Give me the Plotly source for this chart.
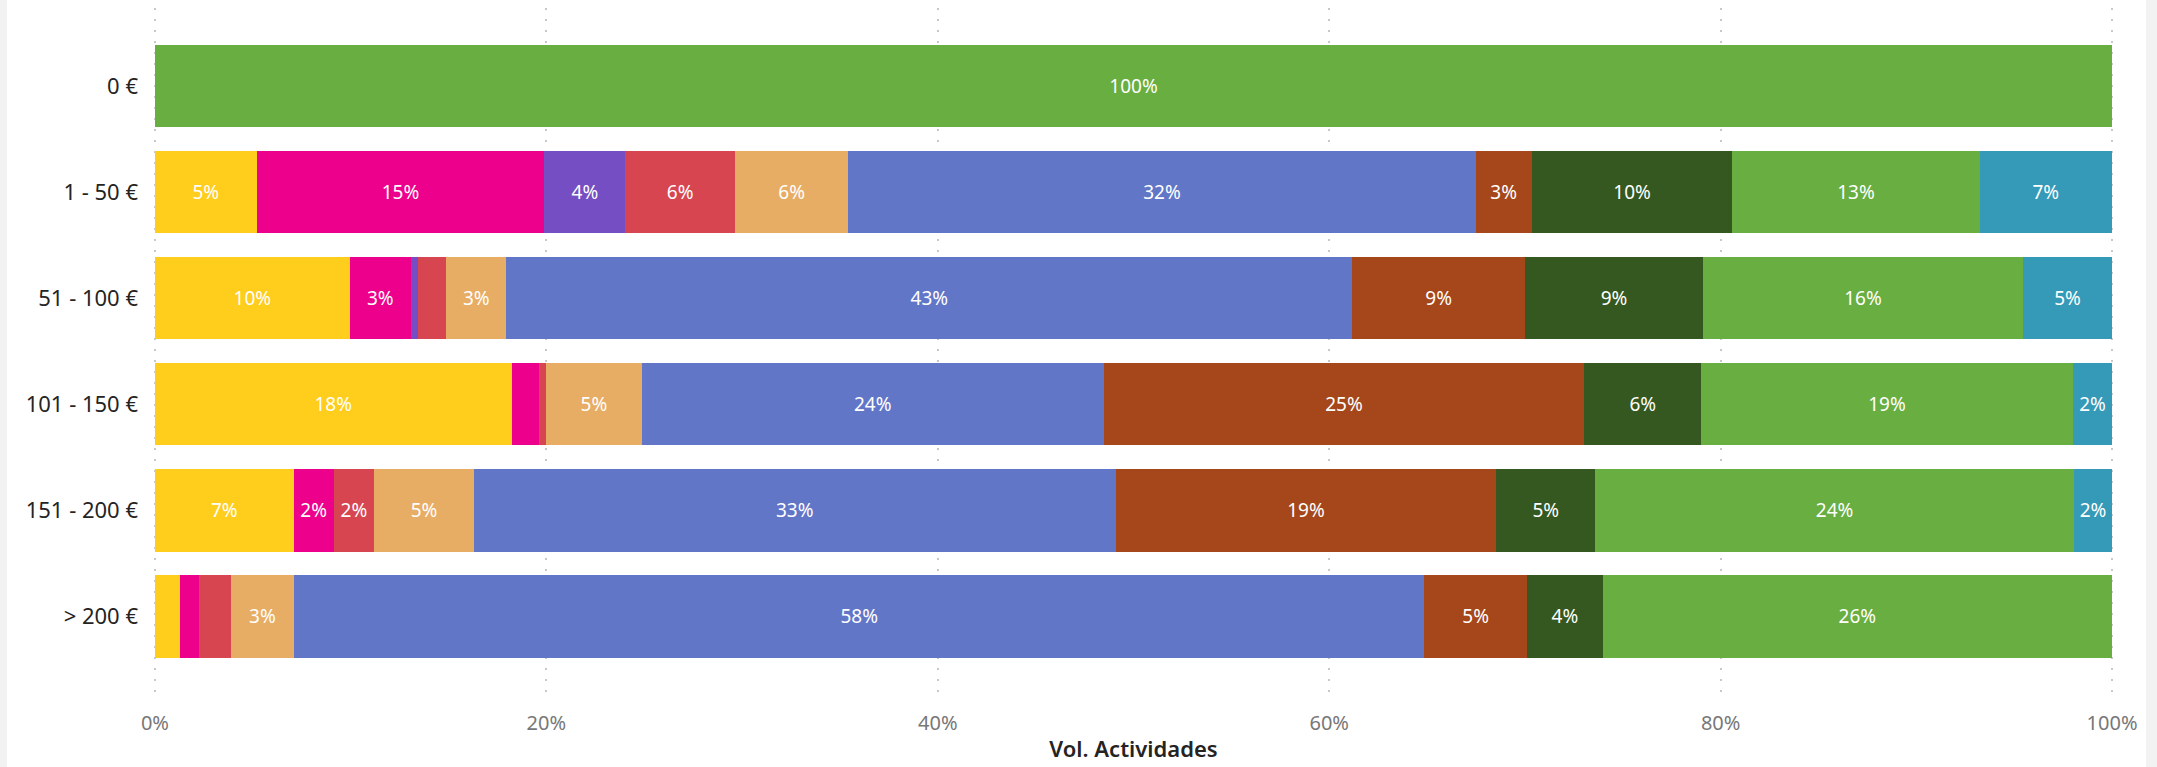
import plotly.graph_objects as go

categories = ["0 €", "1 - 50 €", "51 - 100 €", "101 - 150 €", "151 - 200 €", "> 200 €"]

series_names = ["Serie A", "Serie B", "Serie C", "Serie D", "Serie E",
                "Serie F", "Serie G", "Serie H", "Serie I", "Serie J"]

s_yellow = [0, 5.19, 9.95, 18.22, 7.09, 1.27]
s_pink = [0, 14.71, 3.13, 1.38, 2.04, 0.96]
s_purple = [0, 4.14, 0.37, 0, 0, 0]
s_red = [0, 5.59, 1.43, 0.38, 2.07, 1.64]
s_tan = [0, 5.80, 3.08, 4.90, 5.09, 3.24]
s_blue = [0, 32.05, 43.21, 23.59, 32.80, 57.75]
s_brown = [0, 2.87, 8.84, 24.57, 19.44, 5.25]
s_dkgreen = [0, 10.25, 9.09, 5.96, 5.07, 3.86]
s_green = [100, 12.63, 16.35, 19.00, 24.45, 26.03]
s_teal = [0, 6.77, 4.55, 2.00, 1.95, 0]

series_values = [s_yellow, s_pink, s_purple, s_red, s_tan,
                 s_blue, s_brown, s_dkgreen, s_green, s_teal]

colors = ["#FFCD1C", "#EC008C", "#744EC2", "#D64550", "#E8AD64",
          "#6276C8", "#A5471A", "#345820", "#69AE40", "#3599B8"]

x_ticks = [0, 20, 40, 60, 80, 100]

FONT = "Noto Sans"
W, H = 2157, 767
ML, MR, MT, MB = 153, 43, 8, 66

fig = go.Figure()
for name, vals, col in zip(series_names, series_values, colors):
    labels = [f"{round(v)}%" if v >= 1.9 else "" for v in vals]
    fig.add_trace(go.Bar(
        y=categories, x=vals, name=name, orientation="h",
        marker=dict(color=col, line=dict(width=0)),
        text=labels, textposition="inside", insidetextanchor="middle",
        textangle=0, constraintext="none",
        textfont=dict(family=FONT, size=19, color="#FFFFFF"),
        hovertemplate="%{y}: %{x:.1f}%<extra>" + name + "</extra>",
    ))

pw = W - ML - MR
ph = H - MT - MB
# light grey page strips at left and right edges
fig.add_shape(type="rect", xref="paper", yref="paper",
              x0=(0 - ML) / pw, x1=(7 - ML) / pw,
              y0=-MB / ph, y1=1 + MT / ph,
              fillcolor="#F2F2F2", line=dict(width=0), layer="above")
fig.add_shape(type="rect", xref="paper", yref="paper",
              x0=(2146 - ML) / pw, x1=(W - ML) / pw,
              y0=-MB / ph, y1=1 + MT / ph,
              fillcolor="#F2F2F2", line=dict(width=0), layer="above")

fig.update_layout(
    width=W, height=H,
    margin=dict(l=ML, r=MR, t=MT, b=MB, autoexpand=False),
    barmode="stack", bargap=0.225,
    showlegend=False,
    paper_bgcolor="#FFFFFF", plot_bgcolor="rgba(0,0,0,0)",
    uniformtext=dict(minsize=19, mode="show"),
    font=dict(family=FONT),
)
fig.update_xaxes(
    range=[-0.1, 100.1], tickvals=x_ticks, ticktext=[f"{v}%" for v in x_ticks],
    showgrid=True, gridcolor="#C8C8C8", gridwidth=1.5, griddash="2px,9px",
    zeroline=False, showline=False, automargin=False,
    tickfont=dict(family=FONT, size=20, color="#777777"),
    ticklabelstandoff=8,
    title=dict(text="Vol. Actividades", standoff=6,
               font=dict(family=FONT, size=22, color="#252423", weight=600)),
)
fig.update_yaxes(
    type="category", categoryorder="array", categoryarray=categories,
    range=[5.797, -0.737], showgrid=False, zeroline=False, showline=False,
    automargin=False,
    tickfont=dict(family=FONT, size=22, color="#252423"),
    ticklabelstandoff=14,
)

fig.write_html(
    "out.html",
    config={"displayModeBar": False},
    post_script="document.body.style.margin='0';document.body.style.overflow='hidden';",
)
